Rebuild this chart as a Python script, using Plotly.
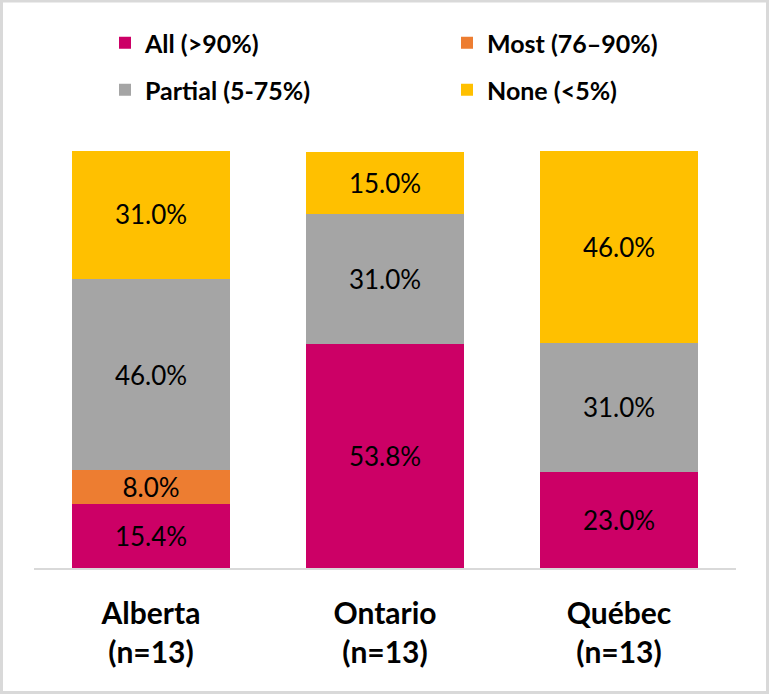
import plotly.graph_objects as go

categories = ["Alberta<br>(n=13)", "Ontario<br>(n=13)", "Québec<br>(n=13)"]
series_names = ["All (>90%)", "Most (76–90%)", "Partial (5-75%)", "None (<5%)"]
all_vals = [15.4, 53.8, 23.0]
most_vals = [8.0, None, None]
partial_vals = [46.0, 31.0, 31.0]
none_vals = [31.0, 15.0, 46.0]
colors = ["#CC0066", "#ED7D31", "#A5A5A5", "#FFC000"]

series_values = [all_vals, most_vals, partial_vals, none_vals]
legend_ids = ["legend", "legend2", "legend3", "legend4"]

fig = go.Figure()
for name, vals, col, lg in zip(series_names, series_values, colors, legend_ids):
    fig.add_trace(go.Bar(
        x=categories, y=vals, name=name,
        marker=dict(color=col, line=dict(width=0)),
        text=[("" if v is None else f"{v:.1f}%") for v in vals],
        textposition="inside", insidetextanchor="middle",
        textfont=dict(family="Lato", size=26, color="black"),
        constraintext="none",
        legend=lg, showlegend=True,
    ))

L, R, T, B = 34, 34, 151, 127
W, H = 770, 695
pw, ph = W - L - R, H - T - B

def px_x(p):
    return (p - L) / pw

def px_y(p):
    return (H - B - p) / ph

legend_font = dict(family="Lato", size=25, color="black", weight="bold")

def leg(xp, yp):
    return dict(orientation="h", x=px_x(xp), xanchor="left", y=px_y(yp), yanchor="middle",
                font=legend_font, bgcolor="rgba(0,0,0,0)", borderwidth=0, visible=True)

fig.update_layout(
    width=W, height=H,
    margin=dict(l=L, r=R, t=T, b=B, pad=0),
    barmode="stack", bargap=0.329,
    paper_bgcolor="white", plot_bgcolor="white",
    showlegend=True,
    uniformtext=dict(minsize=26, mode="show"),
    legend=leg(105, 43),
    legend2=leg(447, 43),
    legend3=leg(105, 90),
    legend4=leg(447, 90),
    xaxis=dict(showline=True, linecolor="#D9D9D9", linewidth=2, ticks="",
               tickfont=dict(family="Lato", size=30, color="black", weight="bold"),
               ticklabelstandoff=18,
               showgrid=False, zeroline=False),
    yaxis=dict(range=[0, 100], visible=False, showgrid=False, zeroline=False),
    shapes=[dict(type="rect", xref="paper", yref="paper",
                 x0=px_x(1.5), x1=px_x(767.5), y0=px_y(692.5), y1=px_y(1),
                 line=dict(color="#D9D9D9", width=3), layer="below")],
)

fig.write_html("out.html", config={"displayModeBar": False},
               post_script="document.body.style.margin='0';document.body.style.overflow='hidden';")
